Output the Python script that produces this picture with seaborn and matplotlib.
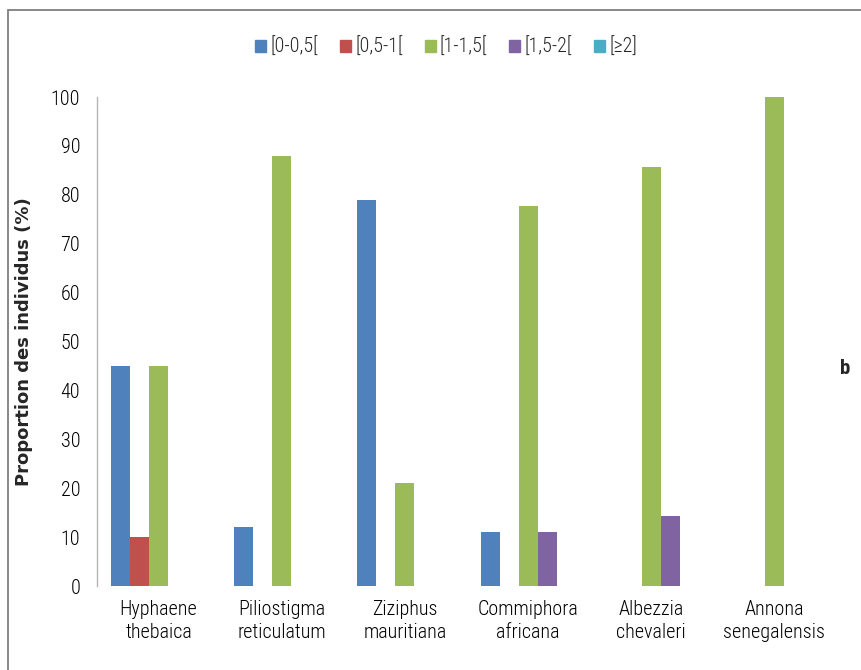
import matplotlib
matplotlib.use("Agg")
import matplotlib.pyplot as plt
from matplotlib.patches import Rectangle
import numpy as np
import pandas as pd
import seaborn as sns

# Species (x categories) and diameter classes (hue)
species = ["Hyphaene\nthebaica", "Piliostigma\nreticulatum", "Ziziphus\nmauritiana",
           "Commiphora\nafricana", "Albezzia\nchevaleri", "Annona\nsenegalensis"]
classes = ["[0-0,5[", "[0,5-1[", "[1-1,5[", "[1,5-2[", "[≥2]"]

# Proportion of individuals (%) per class, one list per class
c_0_05 = [45, 12, 78.9, 11.1, 0, 0]
c_05_1 = [10, 0, 0, 0, 0, 0]
c_1_15 = [45, 88, 21.1, 77.8, 85.7, 100]
c_15_2 = [0, 0, 0, 11.1, 14.3, 0]
c_ge2 = [0, 0, 0, 0, 0, 0]

colors = ["#4F81BD", "#C0504D", "#9BBB59", "#8064A2", "#4BACC6"]
yticks = list(range(0, 101, 10))

series = [c_0_05, c_05_1, c_1_15, c_15_2, c_ge2]
df = pd.DataFrame({
    "espece": [s for _ in classes for s in species],
    "classe": [c for c in classes for _ in species],
    "proportion": [v for vals in series for v in vals],
})

sns.set_style("white")
plt.rcParams["font.family"] = ["Roboto Condensed", "DejaVu Sans"]
plt.rcParams["font.weight"] = "light"

fig = plt.figure(figsize=(8.62, 6.7), dpi=100)
ax = fig.add_axes([97 / 862, 1 - 586 / 670, 739 / 862, 489 / 670])

sns.barplot(data=df, x="espece", y="proportion", hue="classe",
            order=species, hue_order=classes, palette=colors,
            width=0.77, dodge=True, saturation=1, errorbar=None,
            linewidth=0, ax=ax, legend=False)

ax.set_xlim(-0.5, len(species) - 0.5)
ax.set_ylim(0, 100)
ax.set_yticks(yticks)
ax.set_yticklabels([str(t) for t in yticks])

# Category labels at group centres, tick marks at group boundaries
ax.set_xticks(range(len(species)))
ax.set_xticklabels(species, linespacing=1.3)
ax.set_xticks(np.arange(-0.5, len(species)), minor=True)
ax.tick_params(axis="x", which="major", length=0, pad=10, labelsize=14.5, colors="black")
ax.tick_params(axis="x", which="minor", length=7, width=1, color="#b5b5b5", direction="out")
ax.tick_params(axis="y", length=5, width=1, color="#b5b5b5", direction="out",
               pad=7, labelsize=14.5, labelcolor="black")

for side in ["top", "right", "bottom"]:
    ax.spines[side].set_visible(False)
ax.spines["left"].set_color("#b5b5b5")
ax.spines["left"].set_linewidth(1)

ax.set_xlabel("")
ax.set_ylabel("Proportion des individus (%)", fontsize=13, fontweight="bold",
              family="DejaVu Sans")
ax.yaxis.set_label_coords(-0.086, 0.5)

# Legend across the top
handles = [Rectangle((0, 0), 1, 1, color=c) for c in colors]
fig.legend(handles, classes, loc="center", bbox_to_anchor=(446 / 862, 1 - 47 / 670),
           ncol=5, frameon=False, fontsize=14.5, handlelength=0.55, handleheight=0.55,
           handletextpad=0.2, columnspacing=1.1)

# Panel letter
fig.text(845 / 862, 1 - 368 / 670, "b", fontsize=15, fontweight="bold",
         ha="center", va="center")

# Outer frame
fig.patches.append(Rectangle((8 / 862, -0.05), 1.0, 1 - 10 / 670 + 0.05,
                             transform=fig.transFigure, fill=False,
                             edgecolor="#7f7f7f", linewidth=1.3))

fig.savefig("out.png", dpi=100)
